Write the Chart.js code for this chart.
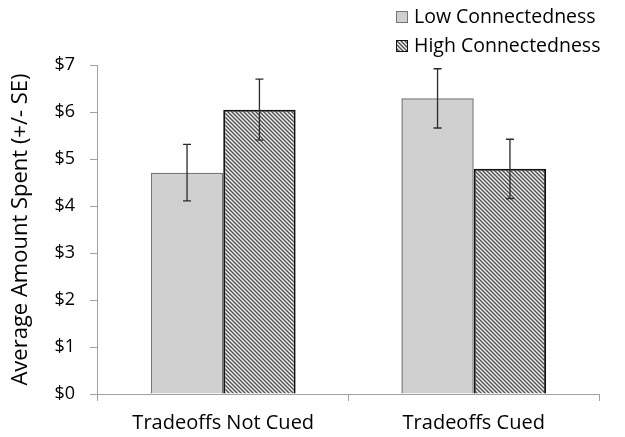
<!DOCTYPE html>
<html>
<head>
<meta charset="utf-8">
<script src="https://cdn.jsdelivr.net/npm/chart.js@4.4.0/dist/chart.umd.min.js"></script>
<style>
  html, body { margin: 0; padding: 0; background: #fff; }
  #wrap { width: 625px; height: 437px; }
</style>
</head>
<body>
<div id="wrap"><canvas id="chart" width="625" height="437"></canvas></div>
<script>
const categories = ['Tradeoffs Not Cued', 'Tradeoffs Cued'];
const seriesNames = ['Low Connectedness', 'High Connectedness'];
const lowValues = [4.71, 6.29];
const highValues = [6.05, 4.79];
const lowErrors = [0.60, 0.63];
const highErrors = [0.65, 0.63];
const yTicks = [0, 1, 2, 3, 4, 5, 6, 7];

const FONT = "'Open Sans', 'DejaVu Sans', sans-serif";

// diagonal hatch for the high series
function makeHatch() {
  const c = document.createElement('canvas');
  c.width = 4; c.height = 4;
  const g = c.getContext('2d');
  g.fillStyle = '#f2f2f2';
  g.fillRect(0, 0, 4, 4);
  g.strokeStyle = '#505050';
  g.lineWidth = 1.4;
  g.beginPath();
  g.moveTo(-1, -1); g.lineTo(5, 5);
  g.moveTo(-1, 3); g.lineTo(1, 5);
  g.moveTo(3, -1); g.lineTo(5, 1);
  g.stroke();
  return g.createPattern(c, 'repeat');
}
const hatch = makeHatch();

const errorBars = {
  id: 'errorBars',
  afterDatasetsDraw(chart) {
    const ctx = chart.ctx;
    const y = chart.scales.y;
    const errs = [lowErrors, highErrors];
    ctx.save();
    ctx.strokeStyle = '#2b2b2b';
    ctx.lineWidth = 1.3;
    chart.data.datasets.forEach((ds, i) => {
      const meta = chart.getDatasetMeta(i);
      meta.data.forEach((bar, j) => {
        const v = ds.data[j], e = errs[i][j];
        const top = y.getPixelForValue(v + e);
        const bot = y.getPixelForValue(v - e);
        ctx.beginPath();
        ctx.moveTo(bar.x, top); ctx.lineTo(bar.x, bot);
        ctx.moveTo(bar.x - 4, top); ctx.lineTo(bar.x + 4, top);
        ctx.moveTo(bar.x - 4, bot); ctx.lineTo(bar.x + 4, bot);
        ctx.stroke();
      });
    });
    ctx.restore();
  }
};

const boxLegend = {
  id: 'boxLegend',
  afterDraw(chart) {
    const ctx = chart.ctx;
    ctx.save();
    ctx.font = '19.5px ' + FONT;
    ctx.textBaseline = 'middle';
    chart.data.datasets.forEach((ds, i) => {
      const top = 11 + i * 29;
      ctx.fillStyle = ds.backgroundColor;
      ctx.fillRect(396, top, 12, 12);
      ctx.strokeStyle = ds.borderColor;
      ctx.lineWidth = 1;
      ctx.strokeRect(396.5, top + 0.5, 11, 11);
      ctx.fillStyle = '#000';
      ctx.fillText(ds.label, 414, top + 6);
    });
    ctx.restore();
  }
};

new Chart(document.getElementById('chart'), {
  type: 'bar',
  data: {
    labels: categories,
    datasets: [
      {
        label: seriesNames[0],
        data: lowValues,
        backgroundColor: '#d0d0d0',
        borderColor: '#757575',
        borderWidth: 1.5
      },
      {
        label: seriesNames[1],
        data: highValues,
        backgroundColor: hatch,
        borderColor: '#111111',
        borderWidth: 2
      }
    ]
  },
  options: {
    responsive: false,
    animation: false,
    layout: { padding: { top: 65, right: 26, left: 4, bottom: 1 } },
    datasets: {
      bar: { categoryPercentage: 0.578, barPercentage: 1.0 }
    },
    plugins: {
      legend: { display: false },
      tooltip: { enabled: false }
    },
    scales: {
      x: {
        afterFit(scale) { scale.height = 42; },
        grid: { drawOnChartArea: false, drawTicks: true, tickLength: 7, color: '#a0a0a0', offset: true },
        border: { color: '#a0a0a0', width: 1 },
        ticks: { color: '#000', font: { family: FONT, size: 20 }, padding: 10 }
      },
      y: {
        min: 0,
        max: 7,
        afterBuildTicks(scale) { scale.ticks = yTicks.map(v => ({ value: v })); },
        grid: { drawOnChartArea: false, drawTicks: true, tickLength: 8, color: '#a0a0a0' },
        border: { color: '#a0a0a0', width: 1 },
        ticks: {
          color: '#000',
          font: { family: FONT, size: 18 },
          padding: 15,
          callback: v => '$' + v
        },
        title: {
          display: true,
          text: 'Average Amount Spent (+/- SE)',
          color: '#000',
          font: { family: FONT, size: 22 },
          padding: { top: 4, bottom: 5 }
        }
      }
    }
  },
  plugins: [errorBars, boxLegend]
});
</script>
</body>
</html>
